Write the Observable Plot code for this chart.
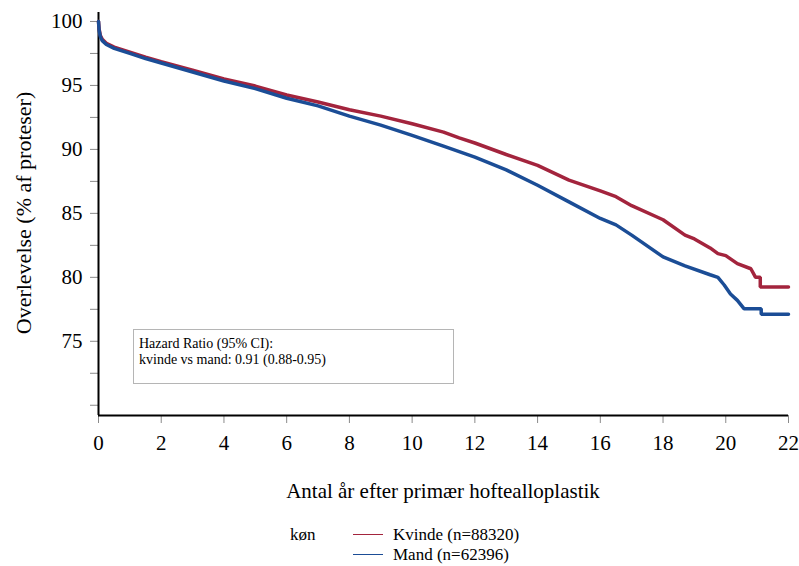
<!DOCTYPE html>
<html><head><meta charset="utf-8">
<script src="https://cdn.jsdelivr.net/npm/d3@7"></script>
<script src="https://cdn.jsdelivr.net/npm/@observablehq/plot@0.6"></script>
<style>
body{margin:0;background:#fff;font-family:"Liberation Serif","Times New Roman",serif;}
#wrap{position:relative;width:799px;height:566px;overflow:hidden;}
#hr{position:absolute;left:133px;top:329px;width:314px;height:47px;border:1px solid #b5b5b5;padding:6px 0 0 5px;font-size:14px;line-height:16px;color:#000;background:#fff;}
#legend{position:absolute;left:290px;top:525px;font-size:17px;line-height:20px;color:#000;}
#legend .title{position:absolute;left:0;top:0;}
#legend .item{position:absolute;left:63px;white-space:nowrap;}
#legend .sw{display:inline-block;width:30px;height:0;border-top:1.5px solid;vertical-align:middle;margin-right:10px;position:relative;top:-2px;}
</style></head><body><div id="wrap"></div>
<script>
const seriesNames = ["Kvinde (n=88320)", "Mand (n=62396)"];
const seriesColors = ["#a3243d", "#1b4d96"];
const legendTitle = "køn";
const hrLines = ["Hazard Ratio (95% CI):", "kvinde vs mand: 0.91 (0.88-0.95)"];

const kvindeT = [0,0.02,0.06,0.12,0.25,0.5,1,1.5,2,3,4,5,6,7,8,9,10,11,11.5,12,13,14,15,16,16.5,17,18,18.7,19,19.5,19.75,20,20.37,20.8,20.95,21.1,21.1,22];
const kvindeS = [100,99.4,98.9,98.6,98.3,98.0,97.6,97.2,96.85,96.2,95.5,94.95,94.25,93.7,93.1,92.6,92.0,91.35,90.9,90.5,89.6,88.75,87.6,86.75,86.3,85.6,84.5,83.3,83.0,82.3,81.85,81.7,81.07,80.67,80.0,80.0,79.24,79.24];
const mandT = [0,0.02,0.06,0.12,0.25,0.5,1,1.5,2,3,4,5,6,7,8,9,10,11,12,13,14,15,16,16.5,17,18,18.7,19.5,19.75,19.95,20.15,20.37,20.58,21.13,21.13,22];
const mandS = [100,99.3,98.8,98.5,98.2,97.9,97.5,97.1,96.75,96.05,95.35,94.75,94.0,93.4,92.6,91.9,91.1,90.25,89.4,88.4,87.2,85.9,84.6,84.1,83.3,81.6,80.9,80.2,80.0,79.4,78.7,78.2,77.55,77.55,77.11,77.11];

const xTicks = [0,2,4,6,8,10,12,14,16,18,20,22];
const yTicks = [70,72.5,75,77.5,80,82.5,85,87.5,90,92.5,95,97.5,100];
const yTickLabels = [75,80,85,90,95,100];
const xLabel = "Antal år efter primær hoftealloplastik";
const yLabel = "Overlevelse (% af proteser)";
const yMin = 69.2, yMax = 100.7;

const rows = [
  ...kvindeT.map((t,i)=>({t, s:kvindeS[i], sex:seriesNames[0]})),
  ...mandT.map((t,i)=>({t, s:mandS[i], sex:seriesNames[1]}))
];

const chart = Plot.plot({
  width: 799, height: 510,
  marginLeft: 98, marginRight: 11, marginTop: 12, marginBottom: 95,
  x: {domain: [0, 22]},
  y: {domain: [yMin, yMax]},
  color: {domain: seriesNames, range: seriesColors},
  style: {fontFamily: '"Liberation Serif","Times New Roman",serif', fontSize: "21px", background: "white", color: "black"},
  marks: [
    Plot.axisY({ticks: yTicks, tickFormat: d => yTickLabels.includes(d) ? String(d) : "", tickSize: 8, tickPadding: 8, stroke: "#8a8a8a", fill: "black", fontSize: 21, label: null}),
    Plot.axisX({ticks: xTicks, tickSize: 8, tickPadding: 12, stroke: "#8a8a8a", fill: "black", fontSize: 21, label: null}),
    Plot.ruleX([0], {stroke: "black", strokeWidth: 2}),
    Plot.ruleY([yMin], {stroke: "black", strokeWidth: 2}),
    Plot.line(rows, {x: "t", y: "s", stroke: "sex", strokeWidth: 3.5, strokeLinejoin: "miter"})
  ]
});
const wrap = document.getElementById("wrap");
wrap.appendChild(chart);

const svg = d3.select(chart);
svg.append("text").attr("x", (98 + 788) / 2).attr("y", 498).attr("text-anchor", "middle")
  .attr("font-size", 21).attr("fill", "black").text(xLabel);
svg.append("text").attr("transform", "translate(31,213) rotate(-90)").attr("text-anchor", "middle")
  .attr("font-size", 22).attr("fill", "black").text(yLabel);

const hr = document.createElement("div"); hr.id = "hr";
hr.innerHTML = hrLines.join("<br>");
wrap.appendChild(hr);

const lg = document.createElement("div"); lg.id = "legend";
lg.innerHTML = `<span class="title">${legendTitle}</span>` +
  seriesNames.map((n,i)=>`<div class="item" style="top:${i*20}px"><span class="sw" style="border-color:${seriesColors[i]}"></span>${n}</div>`).join("");
wrap.appendChild(lg);
</script></body></html>
